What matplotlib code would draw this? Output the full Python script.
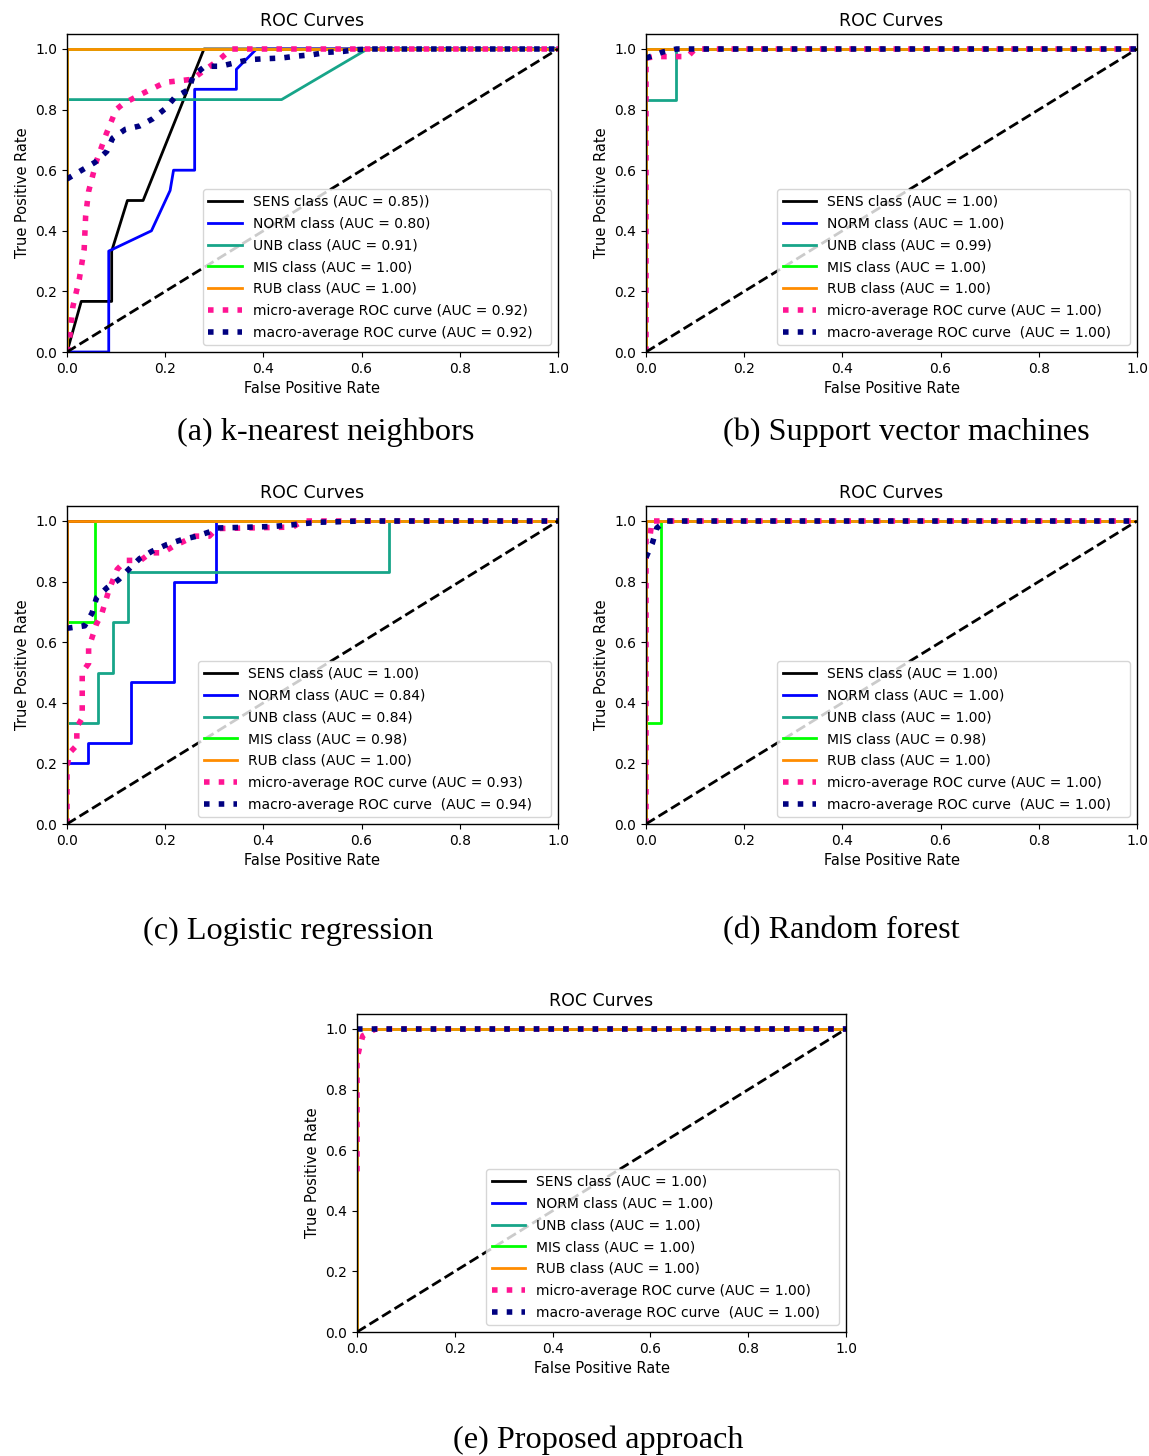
import matplotlib.pyplot as plt

# figure size in pixels (dpi 100)
FIG_W, FIG_H = 1149, 1456

CLASS_NAMES = ['SENS', 'NORM', 'UNB', 'MIS', 'RUB']
CLASS_COLORS = ['black', 'blue', '#17a589', 'lime', 'darkorange']

# a class with a perfect ROC curve
PERFECT_FPR = [0.0, 0.0, 1.0]
PERFECT_TPR = [0.0, 1.0, 1.0]

# (a) k-nearest neighbors
KNN_SENS_FPR = [0.0, 0.029, 0.091, 0.091, 0.123, 0.155, 0.279, 1.0]
KNN_SENS_TPR = [0.0, 0.167, 0.167, 0.333, 0.5, 0.5, 1.0, 1.0]
KNN_NORM_FPR = [0.0, 0.085, 0.085, 0.172, 0.21, 0.217, 0.26, 0.26, 0.345, 0.345, 0.386, 1.0]
KNN_NORM_TPR = [0.0, 0.0, 0.333, 0.4, 0.533, 0.6, 0.6, 0.867, 0.867, 0.933, 1.0, 1.0]
KNN_UNB_FPR = [0.0, 0.0, 0.437, 0.612, 1.0]
KNN_UNB_TPR = [0.0, 0.833, 0.833, 1.0, 1.0]
KNN_MICRO_FPR = [0.0, 0.005, 0.012, 0.025, 0.035, 0.038, 0.044, 0.06, 0.08, 0.1, 0.115,
                 0.15, 0.2, 0.255, 0.28, 0.31, 0.335, 1.0]
KNN_MICRO_TPR = [0.0, 0.04, 0.15, 0.24, 0.34, 0.45, 0.53, 0.63, 0.72, 0.8, 0.82,
                 0.85, 0.89, 0.9, 0.93, 0.965, 1.0, 1.0]
KNN_MACRO_FPR = [0.0, 0.03, 0.057, 0.081, 0.093, 0.119, 0.148, 0.175, 0.2, 0.22, 0.248,
                 0.257, 0.281, 0.312, 0.341, 0.372, 0.404, 0.435, 0.465, 0.499, 0.529,
                 0.562, 0.59, 0.62, 1.0]
KNN_MACRO_TPR = [0.571, 0.6, 0.626, 0.662, 0.706, 0.735, 0.746, 0.77, 0.803, 0.841, 0.866,
                 0.912, 0.943, 0.943, 0.954, 0.965, 0.968, 0.97, 0.976, 0.981, 0.989,
                 0.992, 0.998, 1.0, 1.0]
KNN_AUC = ['0.85)', '0.80', '0.91', '1.00', '1.00', '0.92', '0.92']

# (b) Support vector machines
SVM_UNB_FPR = [0.0, 0.0, 0.062, 0.062, 1.0]
SVM_UNB_TPR = [0.0, 0.833, 0.833, 1.0, 1.0]
SVM_MICRO_FPR = [0.0, 0.0, 0.021, 0.085, 0.1, 1.0]
SVM_MICRO_TPR = [0.0, 0.97, 0.975, 0.975, 1.0, 1.0]
SVM_MACRO_FPR = [0.0, 0.034, 0.062, 1.0]
SVM_MACRO_TPR = [0.97, 0.99, 1.0, 1.0]
SVM_AUC = ['1.00', '1.00', '0.99', '1.00', '1.00', '1.00', '1.00']

# (c) Logistic regression
LR_NORM_FPR = [0.0, 0.0, 0.0435, 0.0435, 0.13, 0.13, 0.217, 0.217, 0.304, 0.304, 1.0]
LR_NORM_TPR = [0.0, 0.2, 0.2, 0.267, 0.267, 0.467, 0.467, 0.8, 0.8, 1.0, 1.0]
LR_UNB_FPR = [0.0, 0.0, 0.0625, 0.0625, 0.094, 0.094, 0.125, 0.125, 0.656, 0.656, 1.0]
LR_UNB_TPR = [0.0, 0.333, 0.333, 0.5, 0.5, 0.667, 0.667, 0.833, 0.833, 1.0, 1.0]
LR_MIS_FPR = [0.0, 0.0, 0.057, 0.057, 1.0]
LR_MIS_TPR = [0.0, 0.667, 0.667, 1.0, 1.0]
LR_MICRO_FPR = [0.0, 0.0, 0.006, 0.02, 0.02, 0.031, 0.031, 0.044, 0.044, 0.06, 0.07, 0.085,
                0.102, 0.12, 0.15, 0.17, 0.195, 0.215, 0.26, 0.29, 0.305, 0.46, 0.48, 1.0]
LR_MICRO_TPR = [0.0, 0.19, 0.236, 0.26, 0.32, 0.35, 0.5, 0.53, 0.58, 0.66, 0.69, 0.77,
                0.84, 0.87, 0.87, 0.895, 0.895, 0.915, 0.95, 0.95, 0.975, 0.98, 1.0, 1.0]
LR_MACRO_FPR = [0.0, 0.036, 0.051, 0.06, 0.081, 0.105, 0.126, 0.148, 0.173, 0.203, 0.233,
                0.262, 0.294, 0.306, 0.356, 0.42, 0.45, 0.48, 0.514, 0.544, 0.577, 0.608, 1.0]
LR_MACRO_TPR = [0.646, 0.654, 0.696, 0.746, 0.779, 0.806, 0.841, 0.876, 0.9, 0.922, 0.938,
                0.949, 0.966, 0.977, 0.979, 0.982, 0.986, 0.991, 0.996, 0.997, 0.999, 1.0, 1.0]
LR_AUC = ['1.00', '0.84', '0.84', '0.98', '1.00', '0.93', '0.94']

# (d) Random forest
RF_MIS_FPR = [0.0, 0.0, 0.03, 0.03, 1.0]
RF_MIS_TPR = [0.0, 0.333, 0.333, 1.0, 1.0]
RF_MICRO_FPR = [0.0, 0.0, 0.008, 0.012, 1.0]
RF_MICRO_TPR = [0.0, 0.947, 0.947, 1.0, 1.0]
RF_MACRO_FPR = [0.0, 0.013, 0.022, 0.04, 1.0]
RF_MACRO_TPR = [0.88, 0.927, 0.977, 1.0, 1.0]
RF_AUC = ['1.00', '1.00', '1.00', '0.98', '1.00', '1.00', '1.00']

# (e) Proposed approach
PROP_MICRO_FPR = [0.0, 0.0, 0.005, 0.012, 0.038, 1.0]
PROP_MICRO_TPR = [0.53, 0.9, 0.937, 0.978, 1.0, 1.0]
PROP_MACRO_FPR = [0.0, 1.0]
PROP_MACRO_TPR = [1.0, 1.0]
PROP_AUC = ['1.00', '1.00', '1.00', '1.00', '1.00', '1.00', '1.00']

CAPTIONS = ['(a) k-nearest neighbors', '(b) Support vector machines',
            '(c) Logistic regression', '(d) Random forest', '(e) Proposed approach']


def px_axes(fig, left, right, y_zero, y_one):
    """Add axes from pixel positions (y of tpr=0 and tpr=1)."""
    unit = y_zero - y_one
    top = y_zero - 1.05 * unit
    return fig.add_axes([left / FIG_W, 1 - y_zero / FIG_H,
                         (right - left) / FIG_W, (y_zero - top) / FIG_H])


def plot_roc(ax, class_curves, micro, macro, aucs, spaced=False):
    for (fpr, tpr), name, color, auc in zip(class_curves, CLASS_NAMES, CLASS_COLORS, aucs):
        ax.plot(fpr, tpr, color=color, lw=2, label=f'{name} class (AUC = {auc})')
    ax.plot(micro[0], micro[1], color='deeppink', linestyle=':', linewidth=4,
            label=f'micro-average ROC curve (AUC = {aucs[5]})')
    gap = '  ' if spaced else ' '
    # trailing spaces widen the legend frame like in the original figure
    ax.plot(macro[0], macro[1], color='navy', linestyle=':', linewidth=4,
            label=f'macro-average ROC curve{gap}(AUC = {aucs[6]})   ')
    ax.plot([0, 1], [0, 1], 'k--', lw=2)
    ax.set_xlim([0.0, 1.0])
    ax.set_ylim([0.0, 1.05])
    ax.set_xlabel('False Positive Rate', fontsize=10.5)
    ax.set_ylabel('True Positive Rate', fontsize=10.5)
    ax.set_title('ROC Curves', fontsize=12.5)
    ax.tick_params(labelsize=10)
    for sp in ax.spines.values():
        sp.set_linewidth(1.0)
    ax.legend(loc='lower right', fontsize=10, labelspacing=0.56, handlelength=2.4)


fig = plt.figure(figsize=(FIG_W / 100, FIG_H / 100), dpi=100)

perfect = (PERFECT_FPR, PERFECT_TPR)

ax_a = px_axes(fig, 67, 558, 352, 49)
plot_roc(ax_a,
         [(KNN_SENS_FPR, KNN_SENS_TPR), (KNN_NORM_FPR, KNN_NORM_TPR),
          (KNN_UNB_FPR, KNN_UNB_TPR), perfect, perfect],
         (KNN_MICRO_FPR, KNN_MICRO_TPR), (KNN_MACRO_FPR, KNN_MACRO_TPR), KNN_AUC)

ax_b = px_axes(fig, 646, 1137, 352, 49)
plot_roc(ax_b,
         [perfect, perfect, (SVM_UNB_FPR, SVM_UNB_TPR), perfect, perfect],
         (SVM_MICRO_FPR, SVM_MICRO_TPR), (SVM_MACRO_FPR, SVM_MACRO_TPR), SVM_AUC,
         spaced=True)

ax_c = px_axes(fig, 67, 558, 824, 521)
plot_roc(ax_c,
         [perfect, (LR_NORM_FPR, LR_NORM_TPR), (LR_UNB_FPR, LR_UNB_TPR),
          (LR_MIS_FPR, LR_MIS_TPR), perfect],
         (LR_MICRO_FPR, LR_MICRO_TPR), (LR_MACRO_FPR, LR_MACRO_TPR), LR_AUC,
         spaced=True)

ax_d = px_axes(fig, 646, 1137, 824, 521)
plot_roc(ax_d,
         [perfect, perfect, perfect, (RF_MIS_FPR, RF_MIS_TPR), perfect],
         (RF_MICRO_FPR, RF_MICRO_TPR), (RF_MACRO_FPR, RF_MACRO_TPR), RF_AUC,
         spaced=True)

ax_e = px_axes(fig, 357, 846, 1332, 1029)
plot_roc(ax_e, [perfect] * 5,
         (PROP_MICRO_FPR, PROP_MICRO_TPR), (PROP_MACRO_FPR, PROP_MACRO_TPR), PROP_AUC,
         spaced=True)

# captions under each panel
caption_pos = [(177, 432), (723, 432), (143, 931), (723, 931), (453, 1440)]
for text, (x, y) in zip(CAPTIONS, caption_pos):
    fig.text(x / FIG_W, 1 - y / FIG_H, text, ha='left', va='center',
             fontsize=23.2, family='Liberation Serif')

fig.savefig('out.png', dpi=100)
